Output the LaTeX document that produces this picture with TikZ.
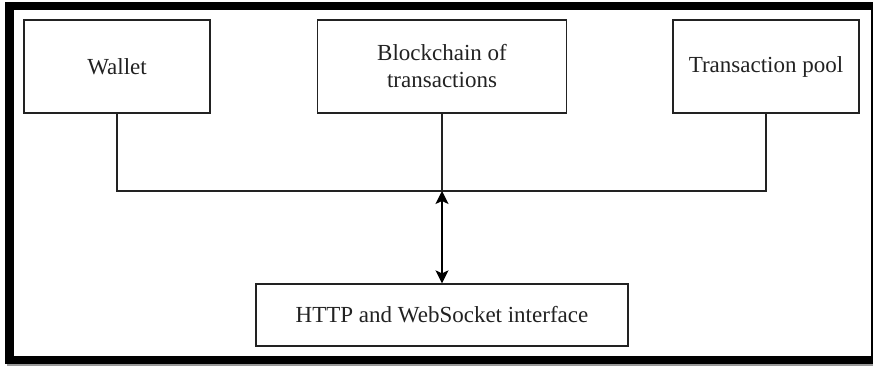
\documentclass[tikz,border=0pt]{standalone}
\usepackage{fontspec}
\setmainfont{Liberation Serif}
\usetikzlibrary{arrows.meta}
\definecolor{ink}{HTML}{222222}
\tikzset{
  box/.style={draw=ink, line width=1.3pt, fill=white, inner sep=0pt, text=ink,
    font=\fontsize{23}{27}\selectfont, align=center},
  link/.style={draw=ink, line width=1.3pt},
  biarrow/.style={draw=black, line width=1.5pt, {Stealth[length=13pt,width=13pt,inset=3pt]}-{Stealth[length=13pt,width=13pt,inset=3pt]}}
}
\begin{document}
\begin{tikzpicture}[x=1pt,y=-1pt]
  % page and frame
  \fill[white] (0,0) rectangle (873,366);
  \useasboundingbox (0,0) rectangle (873,366);
  \fill[black!40] (7,363) rectangle (873,366);
  \fill[black] (5,2) rectangle (873,364);
  \fill[white] (14,10) rectangle (871,356);
  % boxes
  \node[box, minimum width=186pt, minimum height=93pt] (w) at (117,66.5) {Wallet};
  \node[box, minimum width=249pt, minimum height=93pt] (bc) at (442,66.5) {Blockchain of\\transactions};
  \node[box, minimum width=186pt, minimum height=93pt] (tp) at (766,66.5) {Transaction pool};
  \node[box, minimum width=372pt, minimum height=62pt] (http) at (442,315) {HTTP and WebSocket interface};
  % connectors
  \coordinate (jn) at (442,191);
  \draw[link] (w.south) |- (jn);
  \draw[link] (tp.south) |- (jn);
  \draw[link] (bc.south) -- (jn);
  \draw[biarrow] (jn) -- (http.north);
\end{tikzpicture}
\end{document}
